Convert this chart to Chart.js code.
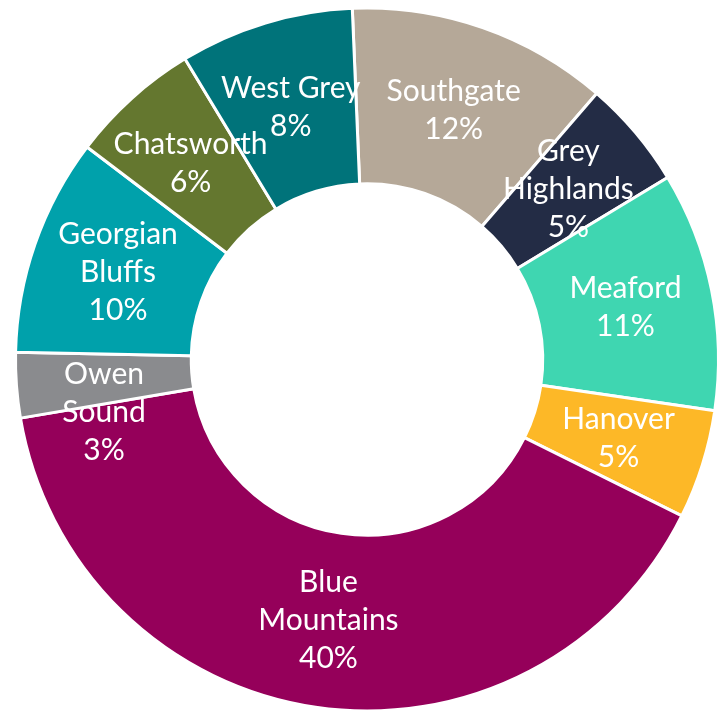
<!DOCTYPE html>
<html>
<head>
<meta charset="utf-8">
<script src="https://cdn.jsdelivr.net/npm/chart.js@4"></script>
<style>
  html, body { margin: 0; padding: 0; background: #fff; }
  canvas { display: block; }
</style>
</head>
<body>
<canvas id="myChart" width="728" height="713"></canvas>
<script>
// categories, clockwise from the top
const categories = [
  ["Southgate"],
  ["Grey", "Highlands"],
  ["Meaford"],
  ["Hanover"],
  ["Blue", "Mountains"],
  ["Owen", "Sound"],
  ["Georgian", "Bluffs"],
  ["Chatsworth"],
  ["West Grey"],
];
const shares = [12, 5, 11, 5, 40, 3, 10, 6, 8];
const colors = [
  "#b5a898", "#232c45", "#3fd6b1", "#fdb827", "#95005a",
  "#8a8b8e", "#00a1ab", "#64772f", "#00737a",
];

// draw the name + percent inside each slice
const sliceLabels = {
  id: "sliceLabels",
  afterDatasetsDraw(chart, args, opts) {
    const ctx = chart.ctx;
    const meta = chart.getDatasetMeta(0);
    ctx.save();
    ctx.fillStyle = "#fff";
    ctx.font = opts.font;
    ctx.textAlign = "center";
    ctx.textBaseline = "middle";
    meta.data.forEach((arc, i) => {
      const p = arc.getProps(["x", "y", "startAngle", "endAngle", "innerRadius", "outerRadius"], true);
      const a = (p.startAngle + p.endAngle) / 2;
      const r = (p.innerRadius + p.outerRadius) / 2;
      const lines = [...chart.data.labels[i], shares[i] + "%"];
      const cx = p.x + Math.cos(a) * r;
      const cy = p.y + Math.sin(a) * r + (opts.nudge[i] || 0);
      const top = cy - (lines.length - 1) * opts.lineHeight / 2;
      lines.forEach((t, k) => ctx.fillText(t, cx, top + k * opts.lineHeight));
    });
    ctx.restore();
  },
};

const ctx = document.getElementById("myChart").getContext("2d");
new Chart(ctx, {
  type: "doughnut",
  data: {
    labels: categories,
    datasets: [{
      data: shares,
      backgroundColor: colors,
      borderColor: "#fff",
      borderWidth: 3,
    }],
  },
  options: {
    responsive: false,
    animation: false,
    cutout: "50%",
    rotation: -2.4,
    layout: { padding: { left: 14, right: 8, top: 6, bottom: 0 } },
    plugins: {
      legend: { display: false },
      tooltip: { enabled: false },
      sliceLabels: { font: "30px Lato", lineHeight: 38, nudge: { 5: 34 } },
    },
  },
  plugins: [sliceLabels],
});
</script>
</body>
</html>
